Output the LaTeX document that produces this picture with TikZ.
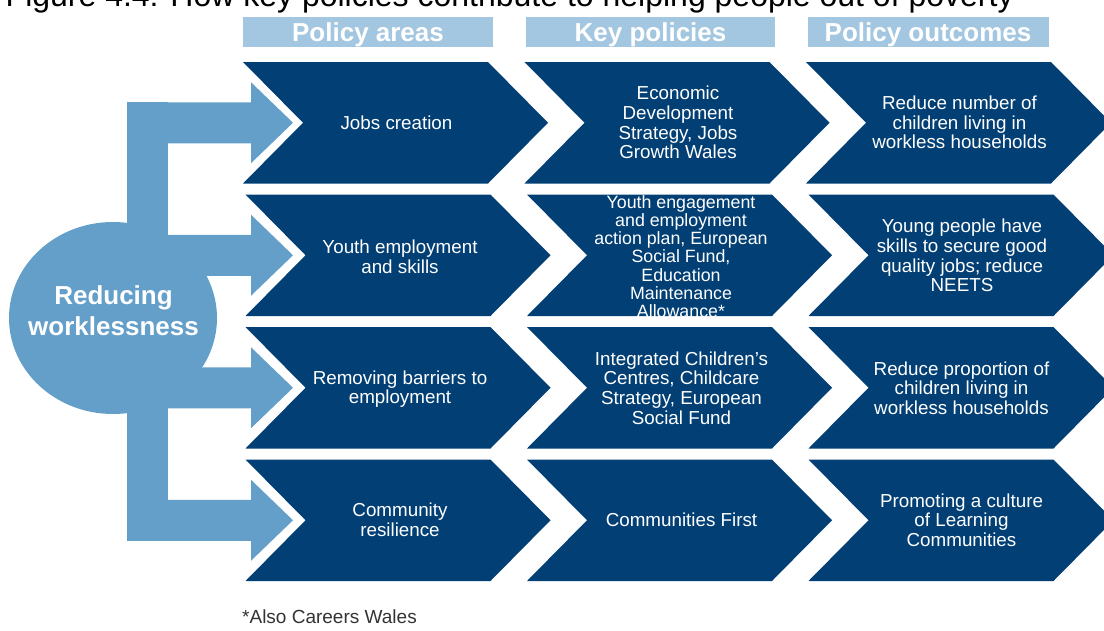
\documentclass[tikz,border=0pt]{standalone}
\usepackage{fontspec}
\setmainfont{Liberation Sans}
\definecolor{navy}{HTML}{023F74}
\definecolor{arrowblue}{HTML}{649FCA}
\definecolor{headblue}{HTML}{A3C6E1}
\definecolor{footgray}{HTML}{333333}
\begin{document}
\begin{tikzpicture}[x=1pt,y=-1pt,
  chevshape/.style={fill=navy},
  flow/.style={fill=arrowblue},
  body/.style={text=white,align=center,inner sep=0pt,font=\fontsize{18.8}{19.7}\selectfont},
  bodysmall/.style={body,font=\fontsize{17.8}{18.2}\selectfont},
  head/.style={fill=headblue,text=white,inner sep=0pt,minimum height=30pt,text height=18pt,text depth=0pt,font=\bfseries\fontsize{26}{30}\selectfont},
]
\useasboundingbox (0,0) rectangle (1104,630);

% title (cut off at top)
\node[anchor=base west,inner sep=0pt,font=\fontsize{32}{38}\selectfont] (title) at (5.5,6) {Figure 4.4: How key policies contribute to helping people out of poverty};

% headers
\node[head,minimum width=250pt] (h1) at (368,32) {Policy areas};
\node[head,minimum width=249pt] (h2) at (650.5,32) {Key policies};
\node[head,minimum width=241pt] (h3) at (928,32) {Policy outcomes};

% chevrons
\foreach \r in {0,...,3}{
  \foreach \c in {0,1,2}{
    \pgfmathsetmacro\t{62+132.5*\r}
    \pgfmathsetmacro\x{243+281.5*\c+(\r>0 ? 2.5 : 0)}
    \fill[chevshape] (\x,\t) -- ++(245,0) -- ++(60,60.75) -- ++(-60,60.75) -- ++(-245,0) -- ++(60,-60.75) -- cycle;
  }
}

% light blue flow arrow
\fill[flow] (113,318) ellipse [x radius=104, y radius=96];
\fill[flow] (127,102.25) rectangle (168,540.75);
\foreach \m in {122.75,255.25,387.75,520.25}{
  \fill[flow] (127,\m-20.5) -- (251,\m-20.5) -- (251,\m-40.5) -- (293,\m) -- (251,\m+40.5) -- (251,\m+20.5) -- (127,\m+20.5) -- cycle;
}
\node[text=white,align=center,inner sep=0pt,font=\bfseries\fontsize{26}{31}\selectfont] (core) at (113.5,311) {Reducing\\worklessness};

% row 1
\node[body] (t11) at (396.5,122.5) {Jobs creation};
\node[body] (t12) at (678,122.5) {Economic\\Development\\Strategy, Jobs\\Growth Wales};
\node[body] (t13) at (959.5,122.5) {Reduce number of\\children living in\\workless households};
% row 2
\node[body] (t21) at (400,256.5) {Youth employment\\and skills};
\node[bodysmall] (t22) at (681,256.5) {Youth engagement\\and employment\\action plan, European\\Social Fund,\\Education\\Maintenance\\Allowance*};
\node[body] (t23) at (962,255.5) {Young people have\\skills to secure good\\quality jobs; reduce\\NEETS};
% row 3
\node[body] (t31) at (400,389) {Removing barriers to\\employment};
\node[body] (t32) at (681.5,388) {Integrated Children’s\\Centres, Childcare\\Strategy, European\\Social Fund};
\node[body] (t33) at (961.5,388) {Reduce proportion of\\children living in\\workless households};
% row 4
\node[body] (t41) at (400,520) {Community\\resilience};
\node[body] (t42) at (681.5,520) {Communities First};
\node[body] (t43) at (961.5,520) {Promoting a culture\\of Learning\\Communities};

% footnote
\node[anchor=base west,inner sep=0pt,text=footgray,font=\fontsize{19}{22}\selectfont] (foot) at (242,623) {*Also Careers Wales};
\end{tikzpicture}
\end{document}
